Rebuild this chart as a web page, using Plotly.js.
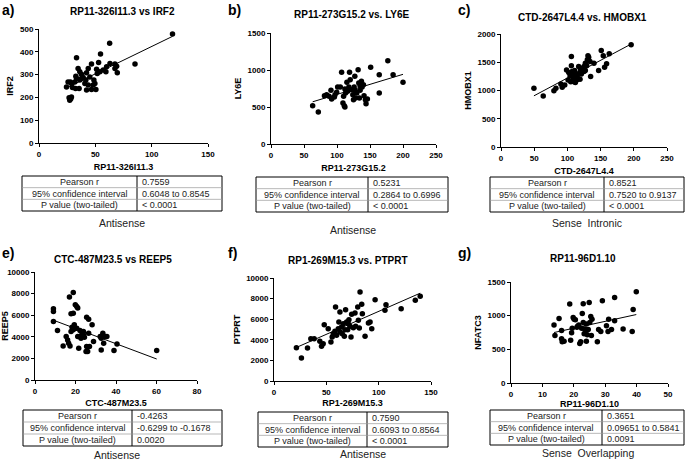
<!DOCTYPE html>
<html><head><meta charset="utf-8">
<script src="https://cdn.plot.ly/plotly-3.0.1.min.js"></script>
<style>html,body{margin:0;padding:0;background:#fff}#chart{width:685px;height:461px}</style>
</head><body><div id="chart"></div>
<script>
// ---------- data ----------
const aX = [118.5,62.7,54.6,33.3,52.9,63.0,67.4,85.2,46.6,34.7,43.7,51.1,57.0,59.4,67.4,54.1,69.5,42.2,37.7,32.7,39.2,45.1,51.7,48.7,41.6,36.2,31.8,28.8,25.8,24.4,29.7,32.4,35.6,40.7,42.2,43.7,48.1,49.6,27.9,46.6,50.5,33.3,26.7,28.8,27.3,28.2,37.7,60.0,68.9,36.2];
const aY = [478,437,390,374,353,349,346,346,346,327,327,324,320,312,327,312,308,308,302,293,287,290,305,276,276,276,268,261,268,246,243,239,239,261,232,254,254,261,268,235,235,283,199,202,188,194,283,334,337,312];
const bX = [63.1,71.7,84.3,90.9,91.9,96,97,101,99.5,107,110,109,111,112,112,113,116,118,119,120,122,124,126,127,128,130,132,133,134,135,137,138,140,141,143,144,146,151,164,164,177,185,200,105,88,81,115,125,128,135];
const bY = [518,432,667,725,608,635,667,770,698,968,644,554,518,500,743,689,712,770,968,869,734,667,770,914,622,689,1005,824,622,725,847,770,802,653,599,545,608,1036,937,689,1126,937,833,770,644,653,833,599,712,788];
const cX = [49.6,63.6,79.7,82.7,92.2,90.2,98.7,101,104,106,106,107,105,109,110,112,114,115,116,119,120,121,123,125,127,129,130,132,134,135,140,147,151,154,156,159,163,196,102,111,127,131,119,96,125,109,117,112];
const cY = [1039,902,997,1039,1056,1116,1365,1187,1258,1602,1436,1335,1157,1217,1157,1246,1187,1294,1217,1317,1377,1294,1395,1424,1353,1436,1543,1590,1513,1246,1484,1353,1709,1614,1412,1472,1650,1810,1317,1353,1484,1614,1199,1098,1335,1294,1424,1140];
const eX = [9.1,9.1,9.1,11.1,13.9,15.4,16.1,16.6,17.3,17.0,18.9,17.8,18.9,17.8,18.3,18.9,19.4,19.9,20.6,21.1,20.6,21.1,21.6,21.9,22.7,23.2,23.9,24.4,25.2,25.5,25.5,26.5,26.5,26.9,28.2,28.9,32.7,32.7,33.5,33.9,34.4,35.5,39.0,40.5,60.1,19.9,22.2,26.0,32.2,23.9];
const eY = [6594,6347,5418,4582,3158,4025,3715,3405,3158,7678,8111,6130,6192,4489,4892,4644,5108,6966,6811,6656,4799,4025,2941,4025,3870,4396,4489,3963,2632,3096,5820,5635,4334,3096,5108,3560,3870,2786,4334,3405,4025,4025,2724,3344,2724,4799,4582,2632,4025,4180];
const fX = [21.4,26.2,32,35.2,38.4,43.8,45.4,47,48,51.8,54.4,55.6,56.6,58.2,58.8,59.8,61.4,62,63,63,64.6,65.2,66.2,67.2,67.8,68.4,69.4,70.4,71.6,72.6,73.6,74.2,75.8,77.4,78,80,80.6,81.5,82.2,83.8,84.4,87,90.2,91.8,96.6,93.4,107,106,121.5,135,139.7,71];
const fY = [3236,2233,3204,4110,4110,3851,3366,3625,5469,5081,3786,4272,4595,4822,7184,4434,5081,5728,6699,4757,5243,4595,5566,4337,4984,6926,5728,4984,5955,5307,4272,6472,5178,6602,5307,7184,5890,5146,8641,7443,6537,4337,5631,5728,7896,5081,7411,6861,7023,7832,8220,5566];
const gX = [13.7,14,15.3,16.1,16.1,16.3,16.9,18.7,19,19.3,19.5,19.8,20.1,20.5,21.2,21.6,21.9,22.2,22.5,22.7,23,23.3,23.5,23.7,24,24.3,24.6,24.9,25.1,25.4,25.6,25.8,27.5,27.9,28.6,29.1,30.4,30.9,31.1,32,33,33,35.7,38.6,38.9,39.9,23,24,21];
const gY = [861,707,957,779,659,611,620,1173,635,745,813,971,947,938,841,861,587,611,813,1034,1178,731,803,779,620,716,793,1197,899,986,707,947,611,793,764,1221,851,764,947,793,1269,923,803,764,1091,1356,899,875,827];

const panelLetters = ["a)","b)","c)","e)","f)","g)"];
const titles = ["RP11-326I11.3 vs IRF2","RP11-273G15.2 vs. LY6E","CTD-2647L4.4 vs. HMOBX1","CTC-487M23.5 vs REEP5","RP1-269M15.3 vs. PTPRT","RP11-96D1.10"];
const xTitles = ["RP11-326I11.3","RP11-273G15.2","CTD-2647L4.4","CTC-487M23.5","RP1-269M15.3","RP11-96D1.10"];
const yTitles = ["IRF2","LY6E","HMOBX1","REEP5","PTPRT","NFATC3"];
const xTicks = [[0,50,100,150],[0,50,100,150,200,250],[0,50,100,150,200,250],[0,20,40,60,80],[0,50,100,150],[0,10,20,30,40,50]];
const yTicks = [[0,100,200,300,400,500],[0,500,1000,1500],[0,500,1000,1500,2000],[0,2000,4000,6000,8000,10000],[0,2000,4000,6000,8000,10000],[0,500,1000,1500]];
const rowLabels = ["Pearson r","95% confidence interval","P value (two-tailed)"];
const pearsonR = ["0.7559","0.5231","0.8521","-0.4263","0.7590","0.3651"];
const confInt = ["0.6048 to 0.8545","0.2864 to 0.6996","0.7520 to 0.9137","-0.6299 to -0.1678","0.6093 to 0.8564","0.09651 to 0.5841"];
const pValue = ["< 0.0001","< 0.0001","< 0.0001","0.0020","< 0.0001","0.0091"];
const captions = ["Antisense","Antisense","Sense\u00a0 Intronic","Antisense","Antisense","Sense\u00a0 Overlapping"];

// ---------- layout geometry (pixels) ----------
const W = 685, H = 461;
const PX = v => v / W, PY = v => 1 - v / H;
const geo = [
  {x0:39, x1:208, y0:29, y1:143, lx:0, ly:10, tx:122, ty:12, xs:6, tb:{L:22,R:222,T:176,B:211,D:137,cy:223,cx:122}},
  {x0:271,x1:436, y0:33, y1:144, lx:226, ly:10, tx:352, ty:15, xs:6, tb:{L:256,R:448,T:177,B:212,D:368,cy:230,cx:353}},
  {x0:501,x1:667, y0:34, y1:147, lx:456, ly:10, tx:582, ty:17, xs:6, tb:{L:490,R:684,T:177,B:212,D:604,cy:223,cx:587}},
  {x0:35, x1:197, y0:272,y1:380, lx:0, ly:253, tx:113, ty:259, xs:5, tb:{L:23,R:222,T:410,B:446,D:132,cy:455,cx:117}},
  {x0:274,x1:431, y0:278,y1:381, lx:226, ly:253, tx:348, ty:260, xs:4, tb:{L:258,R:448,T:412,B:447,D:367,cy:454,cx:363}},
  {x0:511,x1:668, y0:282,y1:383, lx:456, ly:253, tx:583, ty:258, xs:0, tb:{L:490,R:684,T:410,B:445,D:602,cy:453,cx:588}}
];
const xs = [aX,bX,cX,eX,fX,gX], ys = [aY,bY,cY,eY,fY,gY];
const FONT = "Liberation Sans, Arial, sans-serif";

function fit(x, y) {
  const n = x.length;
  const mx = x.reduce((s,v)=>s+v,0)/n, my = y.reduce((s,v)=>s+v,0)/n;
  let sxy=0, sxx=0;
  for (let i=0;i<n;i++){ sxy+=(x[i]-mx)*(y[i]-my); sxx+=(x[i]-mx)**2; }
  const b = sxy/sxx, a = my - b*mx;
  const lo = Math.min(...x), hi = Math.max(...x);
  return {x:[lo,hi], y:[a+b*lo, a+b*hi]};
}

const traces = [], layout = {
  width: W, height: H, margin:{l:0,r:0,t:0,b:0}, showlegend:false,
  paper_bgcolor:"#fff", plot_bgcolor:"#fff", font:{family:FONT, color:"#000"},
  annotations: [], shapes: []
};

geo.forEach((g, i) => {
  const k = i === 0 ? "" : String(i+1);
  const xa = "x"+k, ya = "y"+k;
  traces.push({type:"scatter", mode:"markers", x:xs[i], y:ys[i], xaxis:xa, yaxis:ya,
    marker:{color:"#000", size:5.5}, cliponaxis:false, hoverinfo:"none"});
  const f = fit(xs[i], ys[i]);
  traces.push({type:"scatter", mode:"lines", x:f.x, y:f.y, xaxis:xa, yaxis:ya,
    line:{color:"#000", width:1}, hoverinfo:"none"});
  const xt = xTicks[i], yt = yTicks[i];
  const common = {showgrid:false, zeroline:false, showline:true, linecolor:"#000", linewidth:1,
    ticks:"outside", ticklen:3, tickcolor:"#000", tickwidth:1, fixedrange:true,
    tickfont:{family:FONT, size:8, color:"#000", weight:"bold"}};
  layout["xaxis"+k] = Object.assign({}, common, {domain:[PX(g.x0), PX(g.x1)], anchor:ya,
    range:[xt[0], xt[xt.length-1]], tickvals:xt, ticktext:xt.map(String),
    title:{text:"<b>"+xTitles[i]+"</b>", font:{size:9, family:FONT}, standoff:g.xs}});
  layout["yaxis"+k] = Object.assign({}, common, {domain:[PY(g.y1), PY(g.y0)], anchor:xa,
    range:[yt[0], yt[yt.length-1]], tickvals:yt, ticktext:yt.map(String),
    title:{text:"<b>"+yTitles[i]+"</b>", font:{size:9, family:FONT}, standoff:4}});
  layout.annotations.push({xref:"paper", yref:"paper", x:PX(g.lx), y:PY(g.ly), xanchor:"left", yanchor:"middle",
    text:"<b>"+panelLetters[i]+"</b>", showarrow:false, font:{size:14, family:FONT}});
  layout.annotations.push({xref:"paper", yref:"paper", x:PX(g.tx), y:PY(g.ty), xanchor:"center", yanchor:"middle",
    text:"<b>"+titles[i]+"</b>", showarrow:false, font:{size:10, family:FONT}});
  const t = g.tb, rh = (t.B - t.T)/3;
  layout.shapes.push({type:"rect", xref:"paper", yref:"paper", x0:PX(t.L), x1:PX(t.R), y0:PY(t.B), y1:PY(t.T), line:{color:"#000", width:1}});
  layout.shapes.push({type:"line", xref:"paper", yref:"paper", x0:PX(t.D), x1:PX(t.D), y0:PY(t.B), y1:PY(t.T), line:{color:"#000", width:1}});
  for (let r=1;r<3;r++) {
    layout.shapes.push({type:"line", xref:"paper", yref:"paper", x0:PX(t.L), x1:PX(t.R), y0:PY(t.T+r*rh), y1:PY(t.T+r*rh), line:{color:"#999", width:0.7}});
  }
  const vals = [pearsonR[i], confInt[i], pValue[i]];
  for (let r=0;r<3;r++) {
    const yc = PY(t.T + (r+0.5)*rh);
    layout.annotations.push({xref:"paper", yref:"paper", x:PX((t.L+t.D)/2), y:yc, xanchor:"center", yanchor:"middle",
      text:rowLabels[r], showarrow:false, font:{size:9, family:FONT, color:"#222"}});
    layout.annotations.push({xref:"paper", yref:"paper", x:PX(t.D+3), y:yc, xanchor:"left", yanchor:"middle",
      text:vals[r], showarrow:false, font:{size:9, family:FONT, color:"#222"}});
  }
  layout.annotations.push({xref:"paper", yref:"paper", x:PX(t.cx), y:PY(t.cy), xanchor:"center", yanchor:"middle",
    text:captions[i], showarrow:false, font:{size:10.5, family:FONT, color:"#222"}});
});

Plotly.newPlot("chart", traces, layout, {staticPlot:true, displayModeBar:false});
</script>
</body></html>
